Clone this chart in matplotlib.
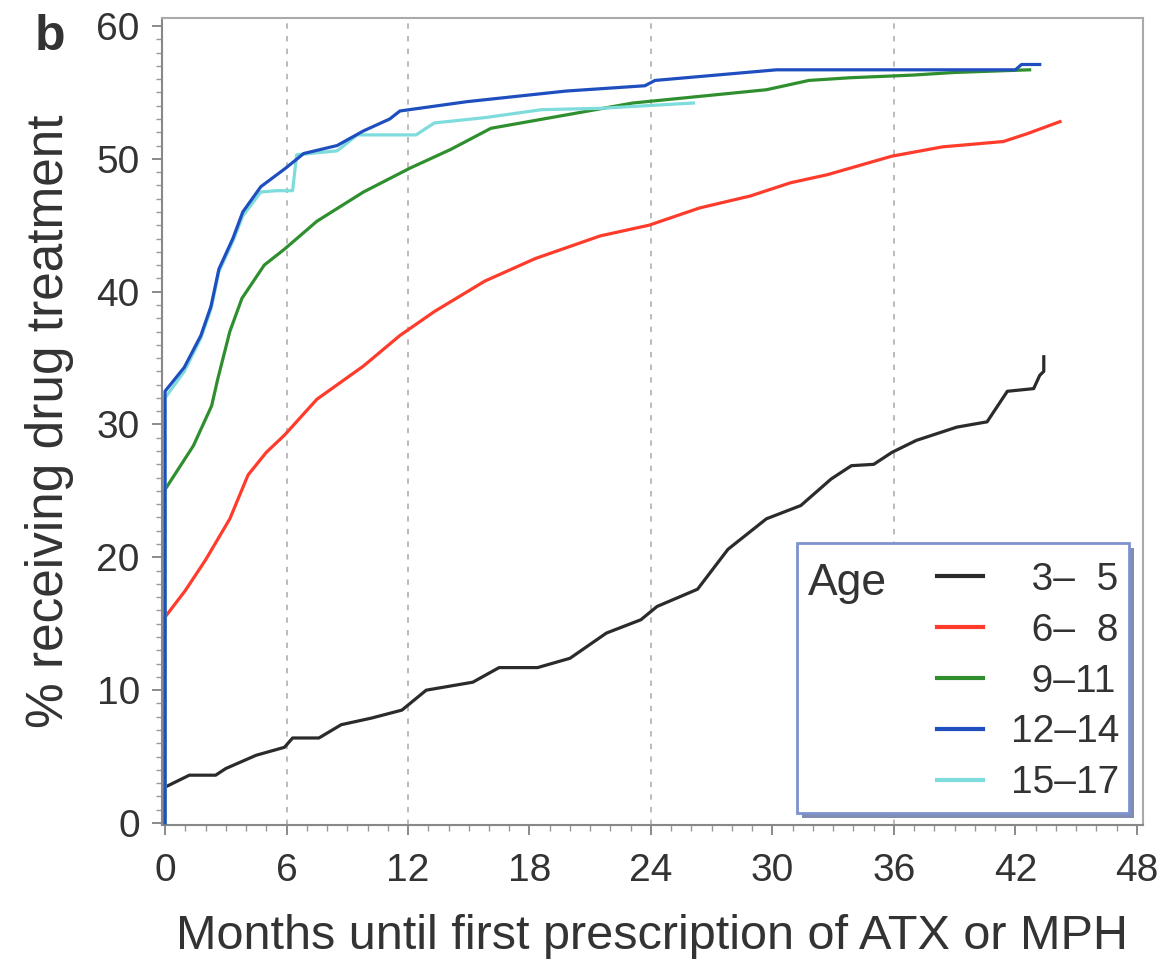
import matplotlib
matplotlib.use("Agg")
import matplotlib.pyplot as plt
from matplotlib.patches import Rectangle
from matplotlib.lines import Line2D
from matplotlib.ticker import MultipleLocator

plt.rcParams['font.family'] = ['Liberation Sans', 'DejaVu Sans']

# Kaplan-Meier style curves, % receiving drug treatment by age group
black_m = [0, 0, 1.2, 2.5, 3.0, 4.5, 5.9, 6.3, 7.6, 8.7, 10.2, 11.7, 12.9, 15.2, 16.5,
           18.4, 20.0, 21.8, 23.5, 24.3, 26.3, 27.8, 29.7, 31.4, 32.9, 33.9, 35.0,
           35.9, 37.1, 39.1, 40.6, 41.6, 42.9, 43.2, 43.4, 43.4]
black_v = [0, 2.7, 3.6, 3.6, 4.1, 5.1, 5.7, 6.4, 6.4, 7.4, 7.9, 8.5, 10.0, 10.6, 11.7,
           11.7, 12.4, 14.3, 15.3, 16.3, 17.6, 20.6, 22.9, 23.9, 25.9, 26.9, 27.0,
           27.9, 28.8, 29.8, 30.2, 32.5, 32.7, 33.7, 34.0, 35.1]

red_m = [0, 0, 1, 2, 3.2, 4.1, 5.0, 5.9, 7.5, 9.8, 11.6, 13.3, 15.8, 18.3, 21.5, 23.9,
         26.4, 28.9, 30.9, 32.7, 35.9, 38.4, 41.4, 42.6, 44.2]
red_v = [0, 15.5, 17.5, 19.8, 22.9, 26.2, 27.9, 29.2, 31.9, 34.4, 36.7, 38.5, 40.8,
         42.5, 44.2, 45.0, 46.3, 47.2, 48.2, 48.8, 50.2, 50.9, 51.3, 51.9, 52.8]

green_m = [0, 0, 1.4, 2.3, 2.6, 3.2, 3.8, 4.9, 5.9, 7.5, 9.8, 12.1, 14.1, 16.1, 19.8,
           23.1, 26.4, 29.7, 31.8, 33.8, 36.9, 39.0, 42.7]
green_v = [0, 25.1, 28.4, 31.4, 33.4, 37.0, 39.5, 42.0, 43.2, 45.3, 47.5, 49.3, 50.7,
           52.3, 53.3, 54.2, 54.7, 55.2, 55.9, 56.1, 56.3, 56.5, 56.7]

blue_m = [0, 0, 0.95, 1.77, 2.27, 2.66, 3.35, 3.84, 4.73, 5.96, 6.85, 8.5, 9.8, 11.1,
          11.6, 14.9, 19.8, 23.7, 24.2, 30.2, 42.0, 42.3, 43.2]
blue_v = [0, 32.5, 34.3, 36.7, 38.9, 41.7, 44.0, 46.0, 47.9, 49.3, 50.4, 51.0, 52.1,
          53.0, 53.6, 54.3, 55.1, 55.5, 55.9, 56.7, 56.7, 57.1, 57.1]

cyan_m = [0, 0, 0.95, 1.77, 2.27, 2.66, 3.35, 3.84, 4.73, 5.5, 6.3, 6.5, 8.5, 9.5,
          12.4, 13.3, 15.8, 18.6, 21.5, 26.1]
cyan_v = [0, 32.0, 34.0, 36.5, 38.7, 41.5, 43.8, 45.7, 47.5, 47.6, 47.6, 50.3, 50.6,
          51.8, 51.8, 52.7, 53.1, 53.7, 53.8, 54.2]

labels = ["\u20073\u2013\u20075", "\u20076\u2013\u20078", "\u20079\u201311",
          "12\u201314", "15\u201317"]
colors = ["#2b2b2b", "#ff3b2b", "#2f8f2f", "#1f4fbf", "#7fdcdc"]
x_ticks = [0, 6, 12, 18, 24, 30, 36, 42, 48]
y_ticks = [0, 10, 20, 30, 40, 50, 60]
grid_months = [6, 12, 24, 36]

W, H = 1164, 968
fig = plt.figure(figsize=(W / 100, H / 100), dpi=100)
ax = fig.add_axes([162 / W, (H - 825) / H, (1143 - 162) / W, (825 - 18) / H])

for g in grid_months:
    ax.axvline(g, color="#b5b5b5", lw=1.3, ls=(0, (3, 4)), zorder=1)

series = [(black_m, black_v), (red_m, red_v), (green_m, green_v),
          (cyan_m, cyan_v), (blue_m, blue_v)]
order = [0, 1, 2, 4, 3]
for (m, v), idx in zip(series, order):
    ax.plot(m, v, color=colors[idx], lw=2.3, zorder=3)

ax.set_xlim(-0.15, 48.3)
ax.set_ylim(-0.15, 60.6)
ax.set_xticks(x_ticks)
ax.set_yticks(y_ticks)
ax.xaxis.set_minor_locator(MultipleLocator(1))
ax.yaxis.set_minor_locator(MultipleLocator(1))
ax.tick_params(which="major", direction="out", length=7, width=1.2, color="#777777",
               labelsize=28, labelcolor="#333333")
ax.tick_params(which="minor", direction="out", length=4, width=1, color="#999999")
ax.tick_params(axis="x", pad=13)
ax.tick_params(axis="y", pad=9)
for s in ["left", "bottom"]:
    ax.spines[s].set_color("#888888")
    ax.spines[s].set_linewidth(1.5)
for s in ["top", "right"]:
    ax.spines[s].set_color("#aaaaaa")
    ax.spines[s].set_linewidth(1.5)

ax.set_xlabel("Months until first prescription of ATX or MPH", fontsize=35,
              color="#333333", labelpad=18)
ax.set_ylabel("% receiving drug treatment", fontsize=37, color="#333333", labelpad=16)

fig.text(35 / W, 1 - 50 / H, "b", fontsize=36, fontweight="bold", color="#333333",
         ha="left", va="baseline")

# legend box with shadow
lx0, lx1, ly0, ly1 = 797, 1129, 543, 813
shadow = Rectangle(((lx0 + 5) / W, 1 - (ly1 + 5) / H), (lx1 - lx0) / W, (ly1 - ly0) / H,
                   transform=fig.transFigure, facecolor="#7f8db0", edgecolor="none",
                   zorder=5)
box = Rectangle((lx0 / W, 1 - ly1 / H), (lx1 - lx0) / W, (ly1 - ly0) / H,
                transform=fig.transFigure, facecolor="white", edgecolor="#7f92d0",
                lw=2, zorder=6)
fig.patches.extend([shadow, box])

handles = [Line2D([], [], color=c, lw=3) for c in colors]
leg = fig.legend(handles, labels, loc="upper right",
                 bbox_to_anchor=(1119 / W, 1 - 562 / H), frameon=False, fontsize=28,
                 handlelength=1.2, handletextpad=0.7, labelspacing=0.38, borderpad=0,
                 borderaxespad=0, labelcolor="#333333")
leg.set_zorder(7)
fig.text(808 / W, 1 - 583 / H, "Age", fontsize=32, color="#333333", ha="left",
         va="center", zorder=7)

fig.savefig("out.png", dpi=100)
